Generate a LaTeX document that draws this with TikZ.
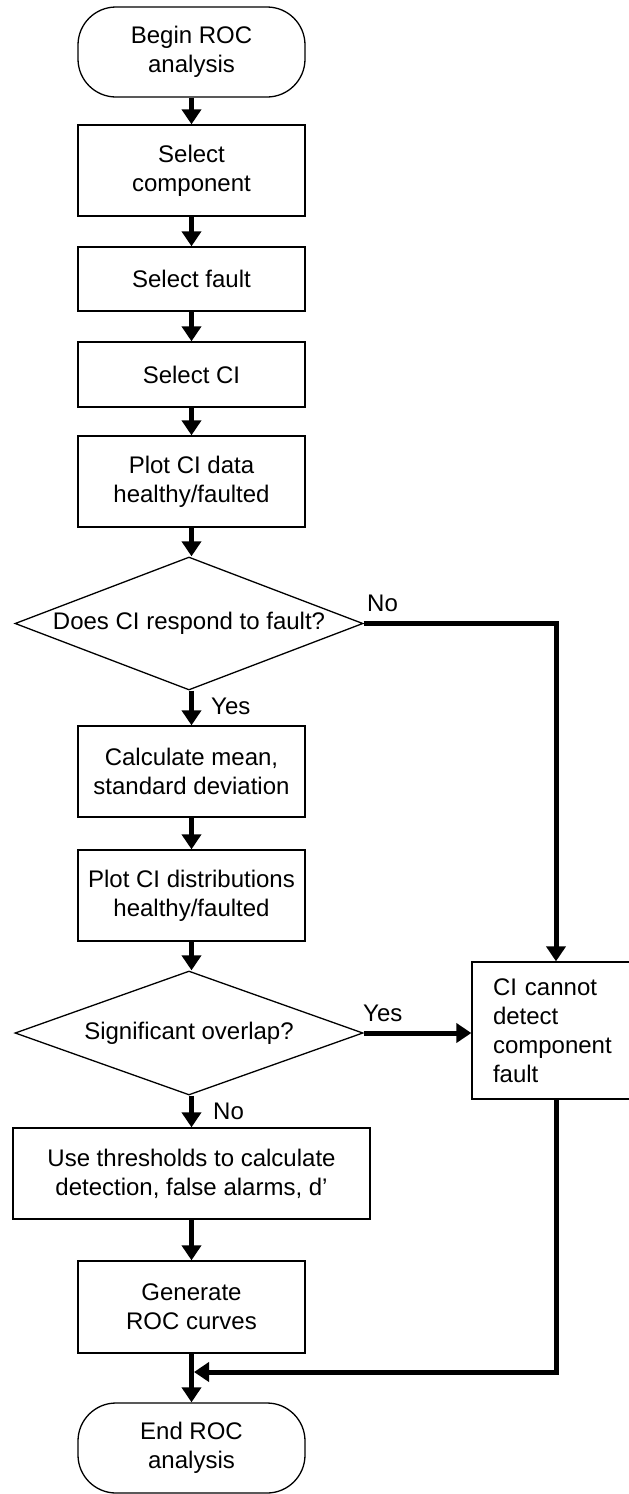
\documentclass[tikz,border=0pt]{standalone}
\usepackage{fontspec}
\setmainfont{Liberation Sans}
\usetikzlibrary{arrows.meta,shapes.geometric}

\begin{document}
\begin{tikzpicture}[x=1pt,y=-1pt,
	font=\fontsize{24}{29}\selectfont,
	box/.style={draw,line width=1.3pt,minimum width=227pt,align=center,inner sep=0pt},
	term/.style={box,rounded corners=38pt},
	decision/.style={draw,line width=1.3pt,diamond,minimum width=348pt,inner sep=0pt},
	flow/.style={line width=5pt,-{Triangle[width=19pt,length=15pt]}},
	lbl/.style={inner sep=0pt,anchor=west}]
	\clip (0,0) rectangle (629,1494);
	
	% main column
	\node[term,minimum height=90pt] (begin) at (191.5,52) {Begin ROC\\analysis};
	\node[box,minimum height=91pt] (comp) at (191.5,170.5) {Select\\component};
	\node[box,minimum height=64pt] (fault) at (191.5,279) {Select fault};
	\node[box,minimum height=65pt] (ci) at (191.5,374.5) {Select CI};
	\node[box,minimum height=91pt] (plotdata) at (191.5,481.5) {Plot CI data\\healthy/faulted};
	\node[decision,aspect=2.62,minimum height=133pt] (respond) at (189,623.5) {Does CI respond to fault?};
	\node[box,minimum height=91pt] (calc) at (191.5,771.5) {Calculate mean,\\standard deviation};
	\node[box,minimum height=91pt] (plotdist) at (191.5,895.5) {Plot CI distributions\\healthy/faulted};
	\node[decision,aspect=2.81,minimum height=124pt] (overlap) at (189,1033) {Significant overlap?};
	\node[box,minimum width=357pt,minimum height=91pt] (thresh) at (191.5,1173.5) {Use thresholds to calculate\\detection, false alarms, d’};
	\node[box,minimum height=92pt] (gen) at (191.5,1307) {Generate\\ROC curves};
	\node[term,minimum height=90pt] (end) at (191.5,1448) {End ROC\\analysis};
	
	% side box
	\node[draw,line width=1.3pt,align=left,text width=126pt,inner xsep=21pt,inner ysep=0pt,minimum height=137pt] (fail) at (556,1030.5) {CI cannot\\detect\\component\\fault};
	
	% connectors
	\draw[flow] (begin.south) -- (comp.north);
	\draw[flow] (comp.south) -- (fault.north);
	\draw[flow] (fault.south) -- (ci.north);
	\draw[flow] (ci.south) -- (plotdata.north);
	\draw[flow] (plotdata.south) -- (respond.north -| plotdata.south);
	\draw[flow] (respond.south -| calc.north) -- (calc.north);
	\draw[flow] (calc.south) -- (plotdist.north);
	\draw[flow] (plotdist.south) -- (overlap.north -| plotdist.south);
	\draw[flow] (overlap.south -| thresh.north) -- (thresh.north);
	\draw[flow] (thresh.south) -- (gen.north);
	\draw[flow] (gen.south) -- (end.north);
	\draw[flow] (respond.east) -| (fail.north);
	\draw[flow] (overlap.east) -- (overlap.east -| fail.west);
	\coordinate (join) at ([xshift=2.5pt]gen.south |- 0,1372);
	\draw[flow] (fail.south) |- (join);
	
	% labels
	\node[lbl] (no1) at (367,603) {No};
	\node[lbl] (yes1) at (211,706) {Yes};
	\node[lbl] (yes2) at (363,1013) {Yes};
	\node[lbl] (no2) at (213,1111) {No};
\end{tikzpicture}
\end{document}
